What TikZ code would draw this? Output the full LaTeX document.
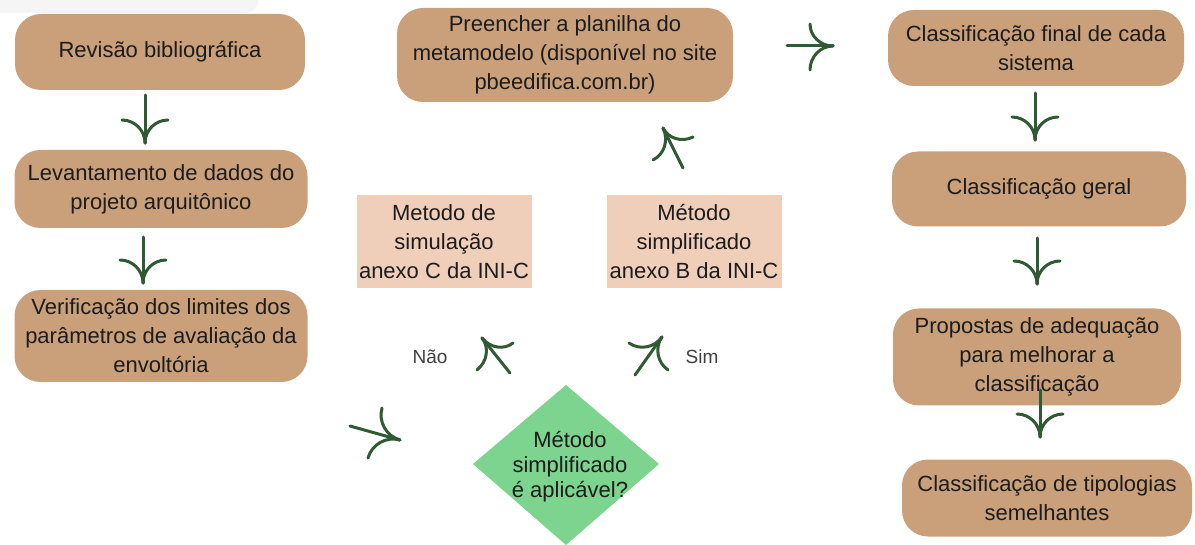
\documentclass[tikz,border=0pt]{standalone}
\usepackage{fontspec}
\setmainfont{Liberation Sans}
\usetikzlibrary{shapes.geometric,calc}
\definecolor{boxtan}{HTML}{C9A07A}
\definecolor{boxpink}{HTML}{F0CFBA}
\definecolor{diagreen}{HTML}{7CD48E}
\definecolor{arrgreen}{HTML}{2F5A33}
\definecolor{txtdark}{HTML}{1C1C1C}
\definecolor{lbl}{HTML}{404040}
\newcommand\harrow[4]{%
  \draw[harr] (#1) -- (#2);
  \path ($(#1)!(#3)!(#2)$) coordinate (hpa) ($(#1)!(#4)!(#2)$) coordinate (hpb);
  \draw[harr] (#2) .. controls ($(#2)!0.55!(hpa)$) and ($(#3)!0.55!(hpa)$) .. (#3);
  \draw[harr] (#2) .. controls ($(#2)!0.55!(hpb)$) and ($(#4)!0.55!(hpb)$) .. (#4);
}
\begin{document}
\begin{tikzpicture}[x=1pt,y=-1pt,
  rbox/.style={fill=boxtan, rounded corners=26pt, align=center, text=txtdark,
    font=\fontsize{22}{29}\selectfont, inner sep=0pt},
  pbox/.style={fill=boxpink, align=center, text=txtdark,
    font=\fontsize{22}{29}\selectfont, inner sep=0pt, minimum width=175, minimum height=93},
  harr/.style={draw=arrgreen, line width=3pt, line cap=round, line join=round},
  lab/.style={text=lbl, font=\fontsize{19}{23}\selectfont, inner sep=0pt}]
\useasboundingbox (0,0) rectangle (1195,545);
\fill[black!4] (0,0) -- (258,0) -- (258,2) to[out=-90,in=0] (245,13) -- (0,13) -- cycle;

% left column
\node[rbox, minimum width=290, minimum height=76] (n1) at (160,52) {Revisão bibliográfica};
\node[rbox, minimum width=293, minimum height=78] (n2) at (161,189) {Levantamento de dados do\\projeto arquitônico};
\node[rbox, minimum width=293, minimum height=92] (n3) at (161,336) {Verificação dos limites dos\\parâmetros de avaliação da\\envoltória};

% middle
\node[rbox, minimum width=336, minimum height=94] (m1) at (565,55) {Preencher a planilha do\\metamodelo (disponível no site\\pbeedifica.com.br)};
\node[pbox] (p1) at (444,242) {Metodo de\\simulação\\anexo C da INI-C};
\node[pbox] (p2) at (694,242) {Método\\simplificado\\anexo B da INI-C};
\coordinate (dtop) at (566,385);
\coordinate (dright) at (659,464);
\coordinate (dbot) at (566,545);
\coordinate (dleft) at (473,464);
\fill[diagreen] (dtop) -- (dright) -- (dbot) -- (dleft) -- cycle;
\node[align=center, text=txtdark, font=\fontsize{22}{25}\selectfont, inner sep=0pt] (d) at (570,467) {Método\\simplificado\\é aplicável?};
\node[lab] (nao) at (430,357) {Não};
\node[lab] (sim) at (702,357) {Sim};

% right column
\node[rbox, minimum width=296, minimum height=76] (r1) at (1036,48) {Classificação final de cada\\sistema};
\node[rbox, minimum width=294, minimum height=75] (r2) at (1039,189) {Classificação geral};
\node[rbox, minimum width=288, minimum height=97] (r3) at (1037,357) {Propostas de adequação\\para melhorar a\\classificação};
\node[rbox, minimum width=290, minimum height=77] (r4) at (1047,498) {Classificação de tipologias\\semelhantes};

% arrow coordinates
\coordinate (a1t) at (145,95);  \coordinate (a1h) at (145,143); \coordinate (a1b) at (122,120); \coordinate (a1c) at (168,120);
\coordinate (a2t) at (143,237); \coordinate (a2h) at (143,283); \coordinate (a2b) at (120,260); \coordinate (a2c) at (166,260);
\coordinate (a3t) at (787,46);  \coordinate (a3h) at (833,46);  \coordinate (a3b) at (810,24);  \coordinate (a3c) at (810,70);
\coordinate (a4t) at (1035,93); \coordinate (a4h) at (1035,140);\coordinate (a4b) at (1012,117);\coordinate (a4c) at (1058,117);
\coordinate (a5t) at (1037,238);\coordinate (a5h) at (1037,284);\coordinate (a5b) at (1014,261);\coordinate (a5c) at (1060,261);
\coordinate (a6t) at (1040,390);\coordinate (a6h) at (1040,437);\coordinate (a6b) at (1017,414);\coordinate (a6c) at (1063,414);
\coordinate (a7t) at (350,426); \coordinate (a7h) at (400,440); \coordinate (a7b) at (382,408); \coordinate (a7c) at (368,458);
\coordinate (a8t) at (510,373); \coordinate (a8h) at (482,338); \coordinate (a8b) at (513,343); \coordinate (a8c) at (477,370);
\coordinate (a9t) at (635,375); \coordinate (a9h) at (662,337); \coordinate (a9b) at (629,343); \coordinate (a9c) at (668,370);
\coordinate (a10t) at (683,168);\coordinate (a10h) at (663,128);\coordinate (a10b) at (693,137);\coordinate (a10c) at (653,160);

\harrow{a1t}{a1h}{a1b}{a1c}
\harrow{a2t}{a2h}{a2b}{a2c}
\harrow{a3t}{a3h}{a3b}{a3c}
\harrow{a4t}{a4h}{a4b}{a4c}
\harrow{a5t}{a5h}{a5b}{a5c}
\harrow{a6t}{a6h}{a6b}{a6c}
\harrow{a7t}{a7h}{a7b}{a7c}
\harrow{a8t}{a8h}{a8b}{a8c}
\harrow{a9t}{a9h}{a9b}{a9c}
\harrow{a10t}{a10h}{a10b}{a10c}
\end{tikzpicture}
\end{document}
